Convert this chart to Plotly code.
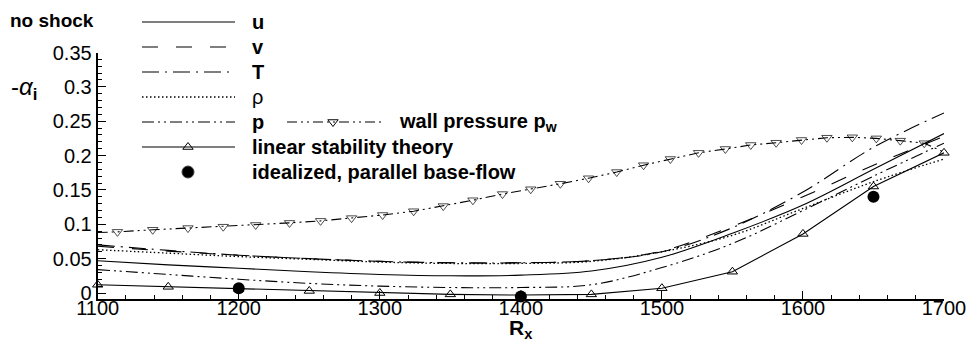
import plotly.graph_objects as go

# ---------------- data ----------------
rx = [1100, 1150, 1200, 1250, 1300, 1350, 1400, 1450, 1500, 1550, 1600, 1650, 1700]
u_vals = [0.047, 0.041, 0.036, 0.031, 0.027, 0.025, 0.026, 0.032, 0.052, 0.087, 0.128, 0.180, 0.232]
v_vals = [0.068, 0.061, 0.055, 0.050, 0.046, 0.044, 0.044, 0.047, 0.061, 0.097, 0.140, 0.186, 0.228]
T_vals = [0.070, 0.062, 0.055, 0.050, 0.046, 0.044, 0.044, 0.047, 0.060, 0.095, 0.147, 0.212, 0.262]
rho_vals = [0.063, 0.058, 0.053, 0.049, 0.045, 0.043, 0.043, 0.046, 0.060, 0.084, 0.123, 0.162, 0.195]
p_vals = [0.034, 0.027, 0.020, 0.014, 0.010, 0.008, 0.008, 0.012, 0.037, 0.072, 0.120, 0.170, 0.218]
lst_vals = [0.012, 0.009, 0.006, 0.003, 0.000, -0.002, -0.003, -0.002, 0.007, 0.031, 0.086, 0.155, 0.204]
ideal_rx = [1200, 1400, 1650]
ideal_vals = [0.007, -0.005, 0.140]
pw_rx = [1100, 1114, 1139, 1164, 1189, 1212, 1236, 1258, 1280, 1302, 1324, 1345, 1366, 1387,
         1407, 1428, 1448, 1468, 1487, 1506, 1526, 1545, 1563, 1581, 1599, 1617, 1635, 1652,
         1669, 1686, 1700]
pw_vals = [0.088, 0.089, 0.092, 0.0945, 0.0965, 0.099, 0.102, 0.105, 0.109, 0.1135, 0.119,
           0.1265, 0.135, 0.144, 0.151, 0.159, 0.167, 0.176, 0.186, 0.195, 0.204, 0.2096,
           0.2154, 0.2187, 0.2227, 0.226, 0.2266, 0.225, 0.2217, 0.218, 0.205]
x_ticks = [1100, 1200, 1300, 1400, 1500, 1600, 1700]
y_ticks = [0, 0.05, 0.1, 0.15, 0.2, 0.25, 0.3, 0.35]
y_tick_text = ["0", "0.05", "0.1", "0.15", "0.2", "0.25", "0.3", "0.35"]

# ---------------- styles ----------------
FONT = "Liberation Sans"
W, H = 967, 341
DASH_V = "16px,18px"
DASH_T = "17px,6px,2px,6px"
DASH_RHO = "1.5px,2.5px"
DASH_P = "12px,4px,2px,4px,2px,4px"
DASH_PW = "10px,4px,2px,4px,2px,4px"
TXT = 20

fig = go.Figure()

def line(x, y, dash, shape="spline", width=1.1):
    fig.add_trace(go.Scatter(x=x, y=y, mode="lines", line=dict(color="black", width=width,
                                                               dash=dash, shape=shape),
                             showlegend=False, hoverinfo="skip", cliponaxis=False))

line(rx, u_vals, "solid")
line(rx, v_vals, DASH_V)
line(rx, T_vals, DASH_T)
line(rx, rho_vals, DASH_RHO, width=1.3)
line(rx, p_vals, DASH_P)

# wall pressure
pw_sizes = [0] + [9] * (len(pw_rx) - 2) + [0]
fig.add_trace(go.Scatter(x=pw_rx, y=pw_vals, mode="lines+markers",
                         line=dict(color="black", width=1.1, dash=DASH_PW),
                         marker=dict(symbol="triangle-down-open", size=pw_sizes, color="black",
                                     line=dict(width=1)),
                         showlegend=False, hoverinfo="skip", cliponaxis=False))
# linear stability theory
fig.add_trace(go.Scatter(x=rx, y=lst_vals, mode="lines+markers",
                         line=dict(color="black", width=1.1),
                         marker=dict(symbol="triangle-up-open", size=9, color="black",
                                     line=dict(width=1)),
                         showlegend=False, hoverinfo="skip", cliponaxis=False))
# idealized parallel base-flow
fig.add_trace(go.Scatter(x=ideal_rx, y=ideal_vals, mode="markers",
                         marker=dict(symbol="circle", size=12, color="black"),
                         showlegend=False, hoverinfo="skip", cliponaxis=False))

# ---------------- legend (drawn on a pixel overlay axis) ----------------
lx0, lx1 = 142, 235
rows = [22, 47, 72, 97, 122, 147, 172]
leg = [("<b>u</b>", "solid", None),
       ("<b>v</b>", DASH_V, None),
       ("<b>T</b>", DASH_T, None),
       ("ρ", DASH_RHO, None),
       ("<b>p</b>", DASH_P, None),
       ("<b>linear stability theory</b>", "solid", "triangle-up-open"),
       ("<b>idealized, parallel base-flow</b>", None, "circle")]
annotations = []
for (label, dash, sym), yy in zip(leg, rows):
    if dash is not None:
        fig.add_trace(go.Scatter(x=[lx0, lx1], y=[yy, yy], mode="lines", xaxis="x2", yaxis="y2",
                                 line=dict(color="black", width=1.3 if dash == DASH_RHO else 1.1,
                                           dash=dash),
                                 showlegend=False, hoverinfo="skip"))
    if sym is not None:
        fig.add_trace(go.Scatter(x=[188], y=[yy], mode="markers", xaxis="x2", yaxis="y2",
                                 marker=dict(symbol=sym, size=12 if sym == "circle" else 9,
                                             color="black", line=dict(width=1)),
                                 showlegend=False, hoverinfo="skip"))
    annotations.append(dict(x=250, y=yy, xref="x2", yref="y2", text=label, showarrow=False,
                            xanchor="left", yanchor="middle",
                            font=dict(family=FONT, size=TXT, color="black")))
# wall pressure legend sample
fig.add_trace(go.Scatter(x=[287, 382], y=[122, 122], mode="lines", xaxis="x2", yaxis="y2",
                         line=dict(color="black", width=1.1, dash=DASH_PW),
                         showlegend=False, hoverinfo="skip"))
fig.add_trace(go.Scatter(x=[333], y=[122], mode="markers", xaxis="x2", yaxis="y2",
                         marker=dict(symbol="triangle-down-open", size=9, color="black",
                                     line=dict(width=1)),
                         showlegend=False, hoverinfo="skip"))
annotations.append(dict(x=397, y=122, xref="x2", yref="y2",
                        text="<b>wall pressure p</b><sub><b>w</b></sub>", showarrow=False,
                        xanchor="left", yanchor="middle",
                        font=dict(family=FONT, size=TXT, color="black")))
annotations.append(dict(x=8, y=20, xref="x2", yref="y2", text="<b>no shock</b>", showarrow=False,
                        xanchor="left", yanchor="middle",
                        font=dict(family=FONT, size=TXT - 1, color="black")))
# axis titles
annotations.append(dict(x=24, y=88, xref="x2", yref="y2", text="-<i>α</i><sub><b>i</b></sub>",
                        showarrow=False, xanchor="center", yanchor="middle",
                        font=dict(family=FONT, size=24, color="black")))
annotations.append(dict(x=521, y=329, xref="x2", yref="y2", text="<b>R</b><sub><b>x</b></sub>",
                        showarrow=False, xanchor="center", yanchor="middle",
                        font=dict(family=FONT, size=21, color="black")))

fig.update_layout(
    width=W, height=H,
    margin=dict(l=0, r=0, t=0, b=0),
    paper_bgcolor="white", plot_bgcolor="rgba(0,0,0,0)",
    font=dict(family=FONT, size=TXT, color="black"),
    showlegend=False,
    annotations=annotations,
    xaxis=dict(domain=[97.7 / W, 944 / W], range=[1100, 1700], tickvals=x_ticks,
               ticks="inside", ticklen=8, tickwidth=1, tickcolor="black",
               minor=dict(ticks="inside", dtick=20, ticklen=4, tickcolor="black", tickwidth=1),
               showline=True, linecolor="black", linewidth=2, showgrid=False, zeroline=False,
               tickfont=dict(size=TXT), automargin=False, ticklabelstandoff=-10),
    yaxis=dict(domain=[(H - 298.5) / H, (H - 52.5) / H], range=[-0.008, 0.35],
               tickvals=y_ticks, ticktext=y_tick_text,
               ticks="inside", ticklen=8, tickwidth=1, tickcolor="black",
               minor=dict(ticks="inside", dtick=0.01, tick0=0, ticklen=4, tickcolor="black",
                          tickwidth=1),
               showline=True, linecolor="black", linewidth=2, showgrid=False, zeroline=False,
               tickfont=dict(size=TXT), automargin=False),
    xaxis2=dict(domain=[0, 1], range=[0, W], visible=False, anchor="y2"),
    yaxis2=dict(domain=[0, 1], range=[H, 0], visible=False, anchor="x2"),
)

fig.write_html("out.html")
